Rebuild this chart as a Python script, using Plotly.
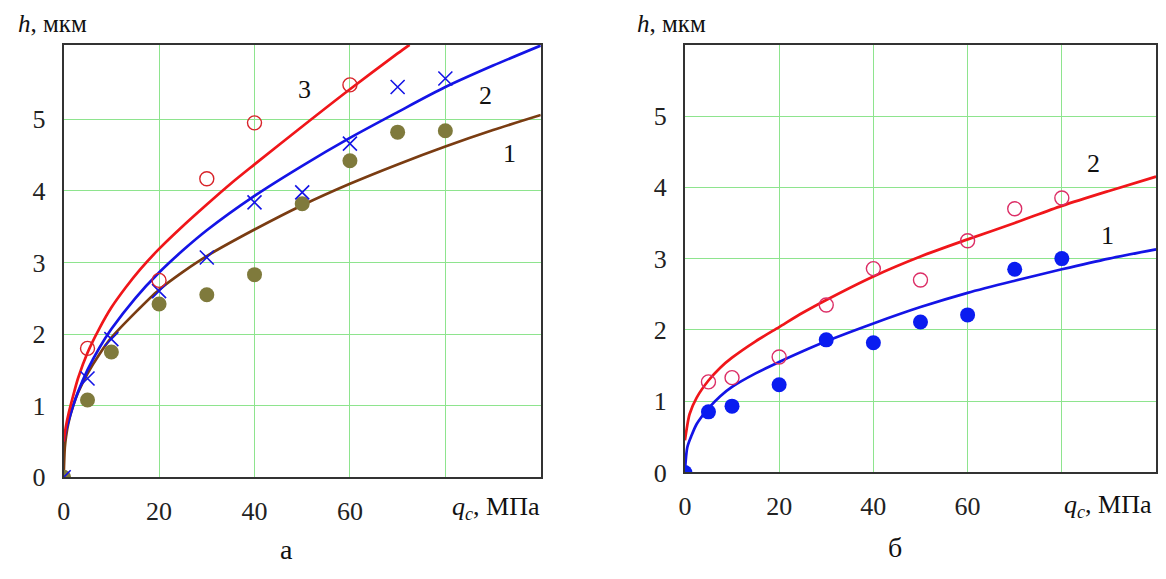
import plotly.graph_objects as go

# ---------- panel "а" ----------
# measured points
qa_pts = [0, 5, 10, 20, 30, 40, 50, 60, 70, 80]
ha1_pts = [0, 1.08, 1.75, 2.42, 2.55, 2.83, 3.82, 4.42, 4.82, 4.84]
qa2_pts = [0, 5, 10, 20, 30, 40, 50, 60, 70, 80]
ha2_pts = [0, 1.38, 1.93, 2.6, 3.07, 3.84, 3.98, 4.66, 5.45, 5.57]
qa3_pts = [5, 20, 30, 40, 60]
ha3_pts = [1.8, 2.75, 4.17, 4.95, 5.48]

# calculated curves
qa1_curve = [0, 0.25, 0.5, 1, 2, 3, 5, 7.5, 10, 15, 20, 25, 30, 40, 50, 60, 70, 80, 90, 100]
ha1_curve = [0, 0.42, 0.57, 0.76, 1.0, 1.18, 1.45, 1.72, 1.95, 2.3, 2.62, 2.87, 3.09, 3.46, 3.8, 4.1, 4.37, 4.62, 4.85, 5.06]
qa2_curve = [0, 0.5, 1, 2, 3, 5, 7.5, 10, 15, 20, 25, 30, 40, 50, 60, 70, 80, 90, 100]
ha2_curve = [0.5, 0.66, 0.78, 1.0, 1.19, 1.5, 1.81, 2.07, 2.5, 2.86, 3.17, 3.45, 3.93, 4.35, 4.74, 5.1, 5.45, 5.75, 6.03]
qa3_curve = [0, 0.5, 1, 2, 3, 5, 7.5, 10, 13, 16, 20, 25, 30, 35, 40, 50, 60, 70, 72.5]
ha3_curve = [0.5, 0.72, 0.88, 1.14, 1.38, 1.74, 2.08, 2.37, 2.65, 2.9, 3.19, 3.51, 3.81, 4.1, 4.37, 4.9, 5.42, 5.92, 6.04]

# ---------- panel "б" ----------
qb1_pts = [0, 5, 10, 20, 30, 40, 50, 60, 70, 80]
hb1_pts = [0, 0.85, 0.93, 1.23, 1.86, 1.82, 2.11, 2.21, 2.85, 3.0]
qb2_pts = [5, 10, 20, 30, 40, 50, 60, 70, 80]
hb2_pts = [1.27, 1.33, 1.62, 2.35, 2.86, 2.7, 3.25, 3.7, 3.85]

qb1_curve = [0, 0.5, 1.3, 2.5, 5, 7.5, 10, 15, 20, 25, 30, 40, 50, 60, 70, 80, 90, 100]
hb1_curve = [0, 0.35, 0.5, 0.68, 0.9, 1.07, 1.2, 1.39, 1.55, 1.7, 1.84, 2.09, 2.32, 2.52, 2.69, 2.85, 3.0, 3.13]
qb2_curve = [0, 0.5, 1, 2.5, 5, 7.5, 10, 15, 20, 25, 30, 40, 50, 60, 70, 80, 90, 100]
hb2_curve = [0.45, 0.66, 0.82, 1.05, 1.29, 1.47, 1.61, 1.84, 2.04, 2.24, 2.42, 2.75, 3.03, 3.27, 3.5, 3.74, 3.95, 4.15]

x_ticks = [0, 20, 40, 60, 80]
x_ticktext = ["0", "20", "40", "60", ""]
y_ticks = [0, 1, 2, 3, 4, 5]

RED = "#f0161a"
BLUE = "#1414e6"
BROWN = "#7a3c12"
OLIVE = "#7f7a3c"
PINK = "#dc2e66"
SERIF = "Liberation Serif"

fig = go.Figure()


def curve(x, y, color, xa, ya):
    fig.add_trace(go.Scatter(x=x, y=y, mode="lines", xaxis=xa, yaxis=ya,
                             line=dict(color=color, width=2.7, shape="spline", smoothing=0.8),
                             hoverinfo="skip", showlegend=False))


def points(x, y, symbol, color, size, xa, ya, lw=1.4):
    fig.add_trace(go.Scatter(x=x, y=y, mode="markers", xaxis=xa, yaxis=ya,
                             marker=dict(symbol=symbol, size=size, color=color,
                                         line=dict(color=color, width=lw)),
                             showlegend=False))


# panel а
curve(qa1_curve, ha1_curve, BROWN, "x", "y")
curve(qa2_curve, ha2_curve, BLUE, "x", "y")
curve(qa3_curve, ha3_curve, RED, "x", "y")
points(qa_pts, ha1_pts, "circle", OLIVE, 15, "x", "y", lw=0)
points(qa2_pts, ha2_pts, "x-thin", BLUE, 14, "x", "y", lw=1.6)
points(qa3_pts, ha3_pts, "circle-open", "#d8242a", 14, "x", "y", lw=1.4)

# panel б
curve(qb1_curve, hb1_curve, BLUE, "x2", "y2")
curve(qb2_curve, hb2_curve, RED, "x2", "y2")
points(qb1_pts, hb1_pts, "circle", "#0a1cf0", 15, "x2", "y2", lw=0)
points(qb2_pts, hb2_pts, "circle-open", PINK, 14, "x2", "y2", lw=1.4)

W, H = 1166, 579


def xdom(a, b):
    return [a / W, b / W]


def ydom(bottom, top):
    return [1 - bottom / H, 1 - top / H]


tickfont = dict(family=SERIF, size=26, color="#222")
common_x = dict(range=[0, 100], tickvals=x_ticks, ticktext=x_ticktext,
                showline=True, mirror=True, linecolor="#333", linewidth=2,
                showgrid=True, gridcolor="#8ee48e", gridwidth=1, zeroline=False,
                ticks="", tickfont=tickfont, ticklabelstandoff=9, fixedrange=True)
common_y = dict(tickvals=y_ticks, showline=True, mirror=True, linecolor="#333", linewidth=2,
                showgrid=True, gridcolor="#8ee48e", gridwidth=1, zeroline=False,
                ticks="", tickfont=tickfont, ticklabelstandoff=11, fixedrange=True)

fig.update_layout(
    width=W, height=H,
    margin=dict(l=0, r=0, t=0, b=0),
    paper_bgcolor="white", plot_bgcolor="white",
    font=dict(family=SERIF),
    xaxis=dict(domain=xdom(57, 537), anchor="y", **common_x),
    yaxis=dict(domain=ydom(490, 46), anchor="x", range=[0, 6.04], **common_y),
    xaxis2=dict(domain=xdom(682, 1156), anchor="y2", **common_x),
    yaxis2=dict(domain=ydom(485, 46), anchor="x2", range=[0, 6.0], **common_y),
)

ann = []


def label(text, x, y, xref, yref, size=26, xanchor="center"):
    ann.append(dict(text=text, x=x, y=y, xref=xref, yref=yref, showarrow=False,
                    xanchor=xanchor, yanchor="middle",
                    font=dict(family=SERIF, size=size, color="#111")))


# curve numbers
label("3", 50.4, 5.41, "x", "y")
label("2", 88.5, 5.33, "x", "y")
label("1", 93.5, 4.52, "x", "y")
label("2", 86.7, 4.34, "x2", "y2")
label("1", 89.7, 3.32, "x2", "y2")

# axis titles
label("<i>h</i>, мкм", 9 / W, 1 - 24 / H, "paper", "paper", size=25, xanchor="left")
label("<i>h</i>, мкм", 632 / W, 1 - 24 / H, "paper", "paper", size=25, xanchor="left")
label("<i>q<sub>c</sub></i>, МПа", 446 / W, 1 - 521 / H, "paper", "paper", xanchor="left")
label("<i>q<sub>c</sub></i>, МПа", 1061 / W, 1 - 519 / H, "paper", "paper", xanchor="left")

# panel letters
label("а", 281 / W, 1 - 564 / H, "paper", "paper", size=28)
label("б", 893 / W, 1 - 562 / H, "paper", "paper", size=28)

fig.update_layout(annotations=ann)

fig.write_html("out.html")
